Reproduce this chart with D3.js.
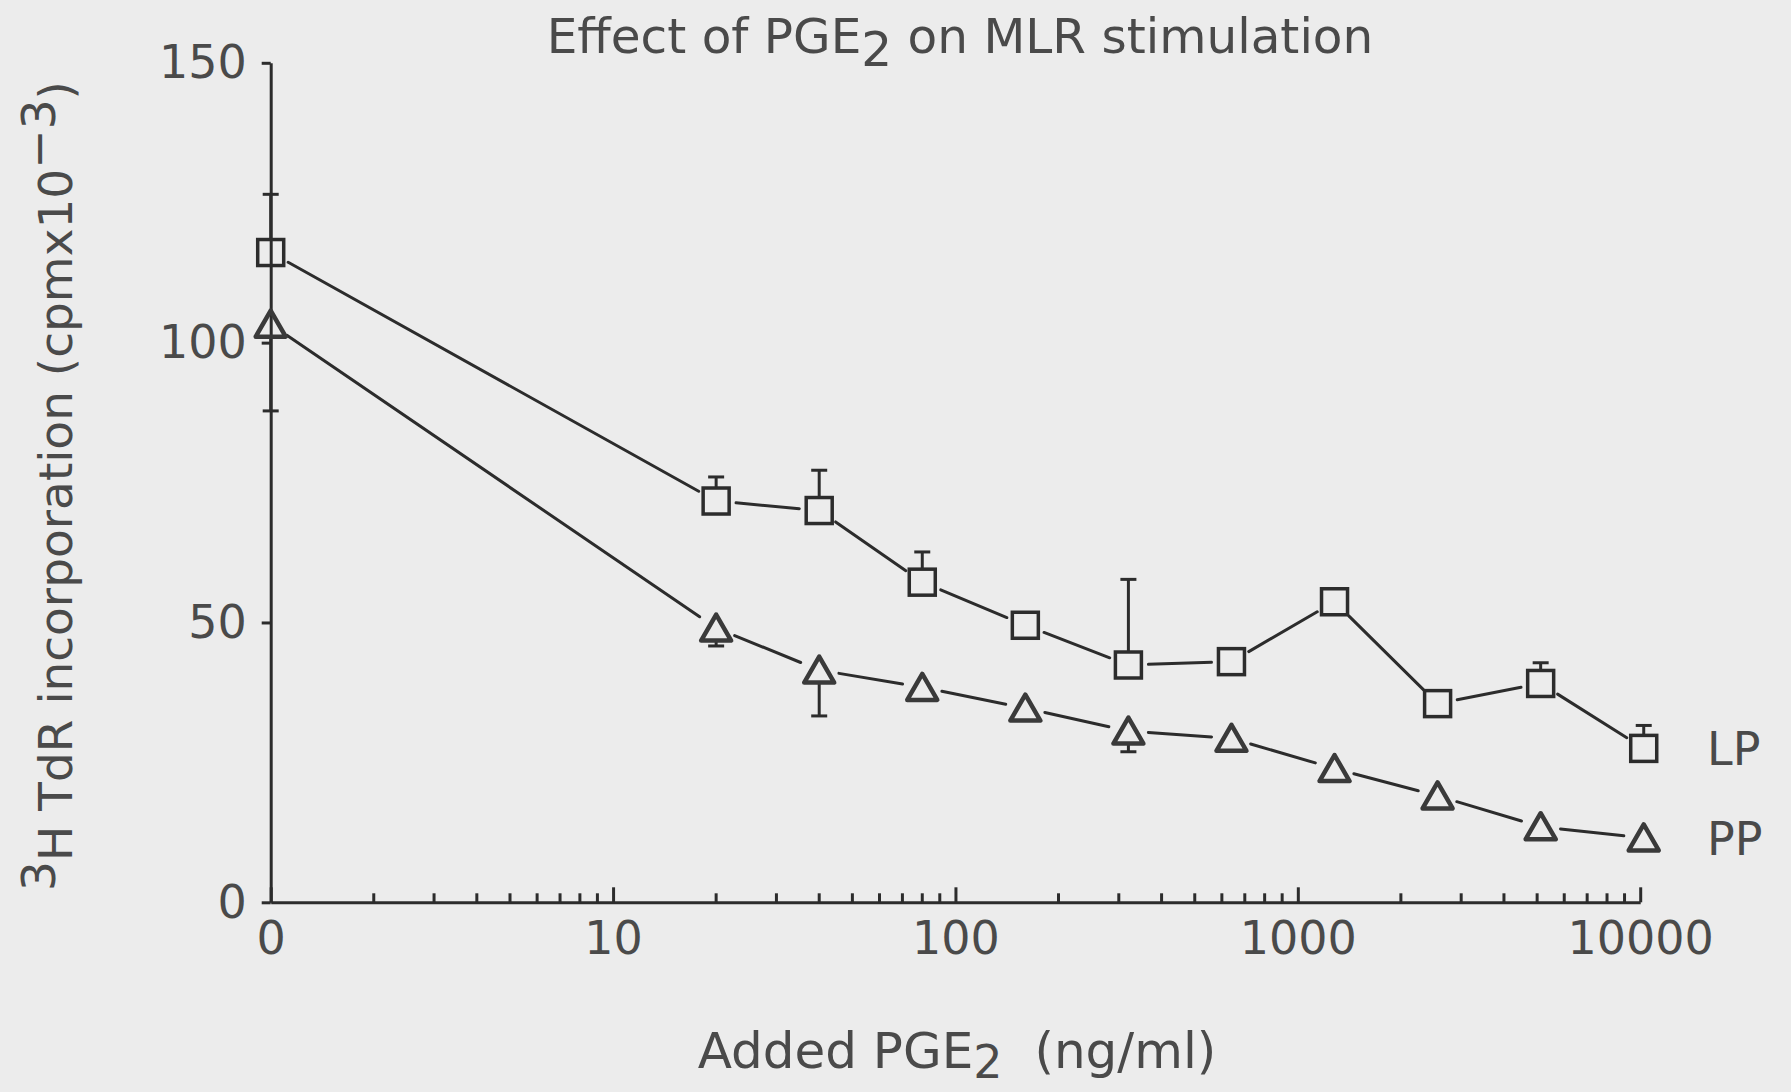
<!DOCTYPE html>
<html><head><meta charset="utf-8">
<script src="https://cdn.jsdelivr.net/npm/d3@7"></script>
<style>
html,body{margin:0;padding:0;background:#ececec;}
svg{display:block;}
</style></head><body>
<svg id="chart" width="1791" height="1092"></svg>
<script>
// PGE2 dose (ng/ml); the zero-dose culture sits at the left end of the log axis
const doses = [0, 20, 40, 80, 160, 320, 640, 1280, 2560, 5120, 10240];
// Mean 3H-TdR incorporation (cpm x 10^-3)
const lpValues = [116.1, 71.7, 70.0, 57.2, 49.5, 42.4, 43.0, 53.7, 35.5, 39.1, 27.5];
const ppValues = [103.3, 49.0, 41.5, 38.4, 34.7, 30.6, 29.3, 23.9, 19.0, 13.5, 11.5];
// One-sided error bar ends (LP drawn upward, PP drawn downward); null = not shown
const lpUpper = [126.5, 76.0, 77.2, 62.6, null, 57.7, null, null, null, 42.8, 31.6];
const ppLower = [87.8, 45.8, 33.3, null, null, 26.9, null, null, null, null, null];
const seriesNames = ["LP", "PP"];
const xTickValues = [1, 10, 100, 1000, 10000];
const xTickLabels = ["0", "10", "100", "1000", "10000"];
const yTickValues = [0, 50, 100, 150];

const ink = "#2c2c2c";
const textInk = "#4a4a4a";
const font = "'DejaVu Sans', sans-serif";

const svg = d3.select("#chart");
const x = d3.scaleLog().domain([1, 10000]).range([270.7, 1640.2]);
const y = d3.scaleLinear().domain([0, 150]).range([902.3, 62.8]);
const xPos = d => x(d === 0 ? 1 : d);

// ---- axes ----
const gx = svg.append("g").attr("transform", `translate(0,${y(0)})`)
  .call(d3.axisBottom(x).tickValues(xTickValues)
    .tickFormat((d, i) => xTickLabels[i])
    .tickSizeInner(-15).tickSizeOuter(0).tickPadding(19));
const gy = svg.append("g").attr("transform", `translate(${x(1)},0)`)
  .call(d3.axisLeft(y).tickValues(yTickValues)
    .tickSizeInner(9).tickSizeOuter(0).tickPadding(15));

[gx, gy].forEach(g => {
  g.attr("font-family", font).attr("font-size", 46);
  g.select(".domain").attr("stroke", ink).attr("stroke-width", 3);
  g.selectAll(".tick line").attr("stroke", ink).attr("stroke-width", 3);
  g.selectAll(".tick text").attr("fill", textInk);
});

// minor log ticks
const minor = [];
[1, 10, 100, 1000].forEach(dec => { for (let k = 2; k <= 9; k++) minor.push(k * dec); });
svg.append("g").selectAll("line").data(minor).join("line")
  .attr("x1", d => x(d)).attr("x2", d => x(d))
  .attr("y1", y(0)).attr("y2", y(0) - 9)
  .attr("stroke", ink).attr("stroke-width", 3);

// ---- series ----
const lineGen = d3.line();
function drawSeries(vals, gap) {
  const g = svg.append("g");
  for (let i = 0; i < vals.length - 1; i++) {
    const x0 = xPos(doses[i]), y0 = y(vals[i]);
    const x1 = xPos(doses[i + 1]), y1 = y(vals[i + 1]);
    const len = Math.hypot(x1 - x0, y1 - y0);
    const ux = (x1 - x0) / len, uy = (y1 - y0) / len;
    g.append("path")
      .attr("d", lineGen([[x0 + ux * gap, y0 + uy * gap], [x1 - ux * gap, y1 - uy * gap]]))
      .attr("fill", "none").attr("stroke", ink).attr("stroke-width", 3)
      .attr("stroke-linecap", "round");
  }
  return g;
}
drawSeries(lpValues, 20);
drawSeries(ppValues, 20);

// error bars
function drawErr(vals, ends, dir, offset) {
  const g = svg.append("g").attr("stroke", ink).attr("stroke-width", 3);
  vals.forEach((v, i) => {
    const e = ends[i];
    if (e == null) return;
    const cx = xPos(doses[i]);
    g.append("line").attr("x1", cx).attr("x2", cx)
      .attr("y1", y(v) + dir * offset).attr("y2", y(e));
    g.append("line").attr("x1", cx - 8).attr("x2", cx + 8)
      .attr("y1", y(e)).attr("y2", y(e));
  });
}
drawErr(lpValues, lpUpper, -1, 13);
drawErr(ppValues, ppLower, 1, 12);

// markers
svg.append("g").selectAll("rect").data(lpValues).join("rect")
  .attr("x", (d, i) => xPos(doses[i]) - 13).attr("y", d => y(d) - 13)
  .attr("width", 26).attr("height", 26)
  .attr("fill", "none").attr("stroke", ink).attr("stroke-width", 3.5);
svg.append("g").selectAll("path").data(ppValues).join("path")
  .attr("transform", (d, i) => `translate(${xPos(doses[i])},${y(d)})`)
  .attr("d", "M0,-13.5L15,12.5L-15,12.5Z")
  .attr("fill", "none").attr("stroke", "#3a3a3a").attr("stroke-width", 4.5)
  .attr("stroke-linejoin", "round");

// series labels at the end of each curve
const lastIdx = doses.length - 1;
svg.append("g").selectAll("text").data([lpValues[lastIdx], ppValues[lastIdx]]).join("text")
  .attr("x", 1707).attr("y", d => y(d) + 17)
  .attr("font-family", font).attr("font-size", 46).attr("fill", textInk)
  .text((d, i) => seriesNames[i]);

// ---- titles ----
const title = svg.append("text").attr("x", 960).attr("y", 53)
  .attr("text-anchor", "middle").attr("font-family", font)
  .attr("font-size", 48.5).attr("fill", textInk);
title.append("tspan").text("Effect of PGE");
title.append("tspan").attr("dy", 13).text("2");
title.append("tspan").attr("dy", -13).text(" on MLR stimulation");

const xLabel = svg.append("text").attr("x", 957).attr("y", 1068)
  .attr("text-anchor", "middle").attr("font-family", font)
  .attr("font-size", 50).attr("fill", textInk);
xLabel.append("tspan").text("Added PGE");
xLabel.append("tspan").attr("dy", 10).attr("font-size", 46).text("2");
xLabel.append("tspan").attr("dy", -10).text("\u00a0\u00a0(ng/ml)");

const yLabel = svg.append("text").attr("transform", "translate(72,486) rotate(-90)")
  .attr("text-anchor", "middle").attr("font-family", font)
  .attr("font-size", 47).attr("fill", textInk);
yLabel.append("tspan").attr("dy", -17).text("3");
yLabel.append("tspan").attr("dy", 17).text("H TdR incorporation (cpmx10");
yLabel.append("tspan").attr("dy", -17).text("\u22123");
yLabel.append("tspan").attr("dy", 17).text(")");
</script>
</body></html>
